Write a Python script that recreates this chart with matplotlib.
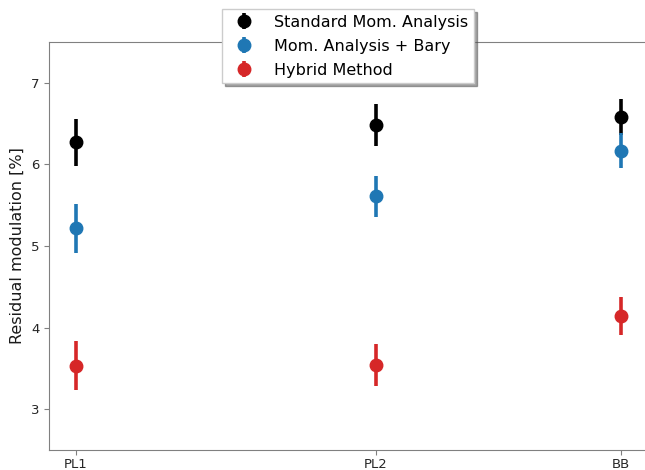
import numpy as np
import matplotlib
matplotlib.use("Agg")
import matplotlib.pyplot as plt

# data
labels = ["PL1", "PL2", "BB"]
xpos = [0.0, 1.0, 1.817]

std_mean = [6.27, 6.48, 6.58]
std_err = [0.29, 0.26, 0.22]
bary_mean = [5.22, 5.61, 6.17]
bary_err = [0.30, 0.25, 0.22]
hyb_mean = [3.53, 3.54, 4.14]
hyb_err = [0.30, 0.26, 0.23]

fig = plt.figure(figsize=(6.45, 4.70), dpi=100)
ax = fig.add_axes([49 / 645, 20 / 470, 610 / 645, 408 / 470])

kw = dict(fmt="o", ms=9, elinewidth=2.6, capsize=0, linestyle="none")
ax.errorbar(xpos, std_mean, yerr=std_err, color="black",
            label="Standard Mom. Analysis", **kw)
ax.errorbar(xpos, bary_mean, yerr=bary_err, color="#1f77b4",
            label="Mom. Analysis + Bary", **kw)
ax.errorbar(xpos, hyb_mean, yerr=hyb_err, color="#d62728",
            label="Hybrid Method", **kw)

ax.set_ylim(2.5, 7.5)
ax.set_xlim(-0.09, 1.943)
ax.set_xticks(xpos)
ax.set_xticklabels(labels)
ax.set_yticks([3, 4, 5, 6, 7])
ax.set_ylabel("Residual modulation [%]", fontsize=11.5, color="0.1")
ax.tick_params(labelsize=9.5, colors="0.5", labelcolor="0.15")
ax.tick_params(axis="x", pad=2)
for s in ax.spines.values():
    s.set_color("0.5")
ax.spines["right"].set_visible(False)

fig.legend(loc="upper center", bbox_to_anchor=(348 / 645, 1 - 1.5 / 470),
           fontsize=11.5, shadow=True, fancybox=False, framealpha=1,
           handletextpad=0.9, borderpad=0.35, labelspacing=0.55,
           edgecolor="0.8")

fig.savefig("out.png", dpi=100)
